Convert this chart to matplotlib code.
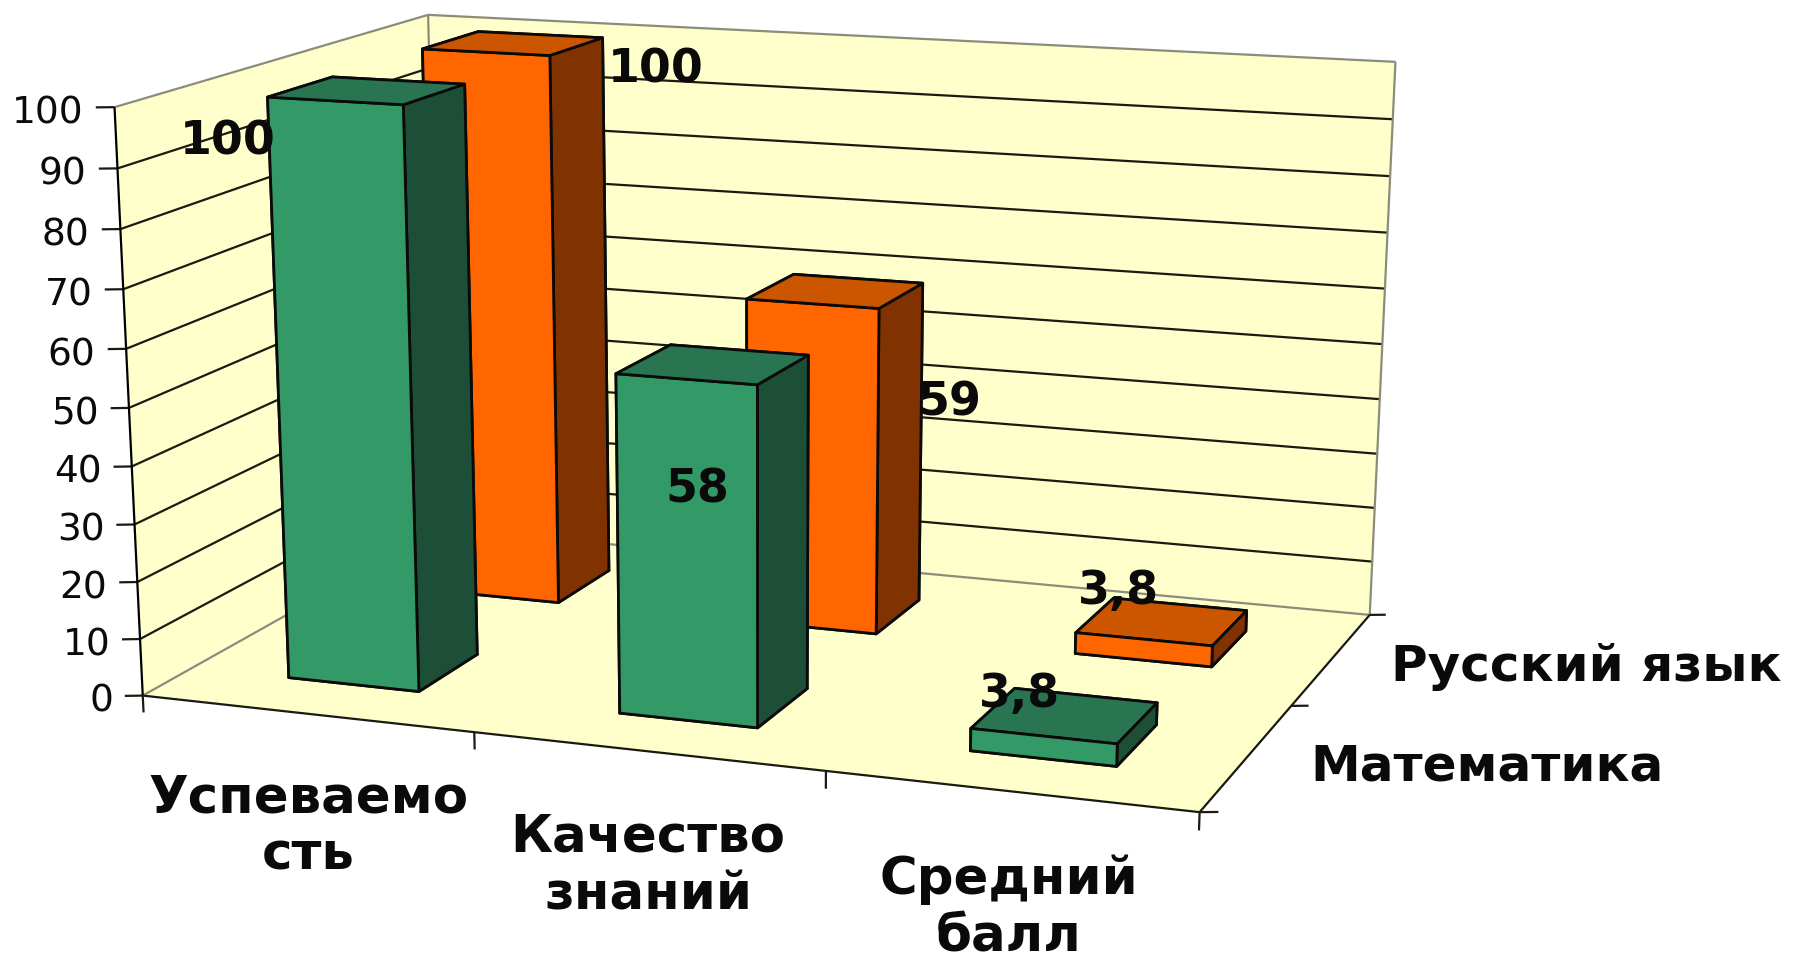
import numpy as np
import matplotlib
matplotlib.use("Agg")
import matplotlib.pyplot as plt
from mpl_toolkits.mplot3d.art3d import Poly3DCollection, Line3DCollection

categories = ["Успеваемо\nсть", "Качество\nзнаний", "Средний\nбалл"]
series_names = ["Математика", "Русский язык"]
math_values = [100, 58, 3.8]
rus_values = [100, 59, 3.8]
y_ticks = [0, 10, 20, 30, 40, 50, 60, 70, 80, 90, 100]

W, H = 1810, 959

# where the chart box corners sit in the picture: (x, y, z) -> (px, py)
box = [((0, 0, 100), (114, 108)), ((0, 2, 100), (429, 14)), ((0, 0, 0), (142, 694)),
       ((3, 2, 100), (1395, 62)), ((3, 2, 0), (1369, 614)), ((3, 0, 0), (1201, 813)),
       ((0, 2, 0), (441, 530))]

rows = []
for (x, y, z), (u, v) in box:
    p = [x / 3, y / 2, z / 100, 1]
    u, v = u / W, v / H
    rows.append(p + [0, 0, 0, 0] + [-u * c for c in p])
    rows.append([0, 0, 0, 0] + p + [-v * c for c in p])
P = np.linalg.svd(np.array(rows))[2][-1].reshape(3, 4)
P = P @ np.diag([1 / 3, 1 / 2, 1 / 100, 1])
if P[2] @ [1.5, 1, 50, 1] < 0:
    P = -P

fig = plt.figure(figsize=(18.10, 9.59), dpi=100)
ax = fig.add_axes([0, 0, 1, 1], projection="3d")
ax.set_axis_off()
ax.computed_zorder = False
ax.apply_aspect = lambda position=None: None


def get_proj():
    vl = ax.viewLim
    depth = np.array([-1 / 3, 1 / 2, -3 / 100, 0.0])
    return np.array([
        vl.x0 * P[2] + vl.width * P[0],
        (vl.y0 + vl.height) * P[2] - vl.height * P[1],
        depth,
        P[2],
    ])


def label(x, y, z, s, **kw):
    q = P @ [x, y, z, 1]
    ax.text2D(q[0] / q[2], 1 - q[1] / q[2], s, transform=ax.transAxes, color="#0A0A0A", **kw)


ax.get_proj = get_proj
ax.set_xlim(0, 3)
ax.set_ylim(0, 2)
ax.set_zlim(0, 100)

wall = "#FFFFCC"
grey = "#8C8C7A"
dark = "#1A1A10"
walls = [[(0, 0, 0), (0, 2, 0), (0, 2, 100), (0, 0, 100)],
         [(0, 2, 0), (3, 2, 0), (3, 2, 100), (0, 2, 100)],
         [(0, 0, 0), (3, 0, 0), (3, 2, 0), (0, 2, 0)]]
ax.add_collection3d(Poly3DCollection(walls, facecolors=wall, edgecolors="none", zorder=1))

# сетка на стенках
segs, seg_colors = [], []
for t in y_ticks:
    c = grey if t in (0, 100) else dark
    segs += [[(0, 0, t), (0, 2, t)], [(0, 2, t), (3, 2, t)], [(-0.045, -0.02, t), (0, 0, t)]]
    seg_colors += [c, c, dark]
    label(-0.075, -0.034, t - 1.0, str(t), ha="right", va="center", fontsize=27, zorder=8)
segs += [[(0, 2, 0), (0, 2, 100)], [(3, 2, 0), (3, 2, 100)], [(0, 0, 0), (0, 0, 100)],
         [(0, 0, 0), (3, 0, 0)], [(3, 0, 0), (3, 2, 0)]]
seg_colors += [grey, grey, "black", dark, dark]
for i in range(4):
    segs.append([(i, 0, 0), (i, 0, -3)])
    seg_colors.append(dark)
for j in range(3):
    segs.append([(3, j, 0), (3.044, j + 0.018, 0)])
    seg_colors.append(dark)
ax.add_collection3d(Line3DCollection(segs, colors=seg_colors, linewidths=1.6, zorder=2))

green = ["#339966", "#297552", "#339966", "#339966", "#1C4E38", "#1C4E38"]
orange = ["#FF6600", "#CC5500", "#FF6600", "#FF6600", "#803300", "#803300"]
bar_pad, bar_size = 0.3, 0.4

zo = 3
for j, (vals, cols) in enumerate([(rus_values, orange), (math_values, green)]):
    ser = 1 - j
    for i, v in enumerate(vals):
        ax.bar3d(i + bar_pad, ser + bar_pad, 0, bar_size, bar_size, v, color=cols, shade=False,
                 edgecolor="#0A0A0A", linewidth=2, zorder=zo)
        zo += 1

for i, c in enumerate(categories):
    label(i + 0.5, 0, -10.5, c, ha="center", va="top", fontsize=37, fontweight="bold",
          linespacing=1.2, zorder=8)
for j, s in enumerate(series_names):
    label(3.17, j + 0.5, -0.5, s, ha="left", va="center", fontsize=36, fontweight="bold", zorder=8)

# подписи значений: где они стоят на плоскости ряда (x, z)
math_label_pos = [(0.072, 90.0), (1.452, 36.4), (2.374, 6.6)]
rus_label_pos = [(0.948, 96.5), (1.851, 40.3), (2.367, 8.6)]
for ser, vals, pos in [(0.5, math_values, math_label_pos), (1.5, rus_values, rus_label_pos)]:
    for v, (lx, lz) in zip(vals, pos):
        label(lx, ser, lz, f"{v:g}".replace(".", ","), ha="center", va="center", fontsize=33,
              fontweight="bold", zorder=9)

fig.savefig("out.png", dpi=100)
